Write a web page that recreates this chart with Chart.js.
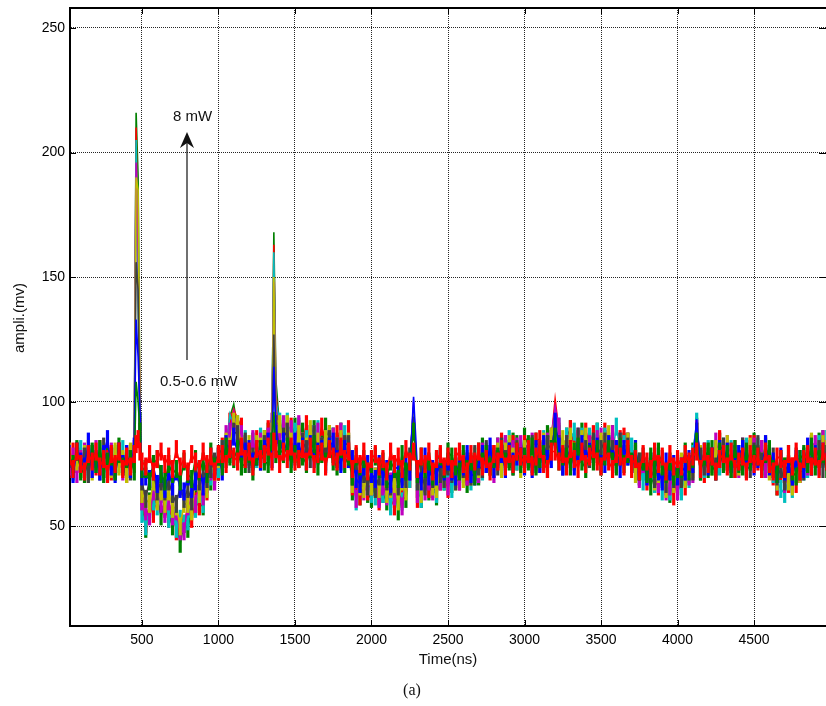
<!DOCTYPE html>
<html>
<head>
<meta charset="utf-8">
<script src="https://cdn.jsdelivr.net/npm/chart.js@4.4.0/dist/chart.umd.min.js"></script>
<style>
  html, body { margin: 0; padding: 0; background: #fff; }
</style>
</head>
<body>
<canvas id="myChart" width="826" height="706"></canvas>
<script>
// time axis (ns), extra samples around the narrow peaks
const timeNs = [
  25, 50, 75, 100, 125, 150, 175, 200, 225, 250, 275, 300, 325, 350, 375, 400, 425, 450, 462, 475, 487, 500,
  525, 550, 575, 600, 625, 650, 675, 700, 725, 750, 775, 800, 825, 850, 875, 900, 925, 950, 975, 1000,
  1025, 1050, 1075, 1100, 1125, 1150, 1175, 1200, 1225, 1250, 1275, 1300, 1325, 1350, 1362, 1375, 1400, 1425, 1450, 1475, 1500,
  1525, 1550, 1575, 1600, 1625, 1650, 1675, 1700, 1725, 1750, 1775, 1800, 1825, 1850, 1875, 1900, 1925, 1950, 1975, 2000,
  2025, 2050, 2075, 2100, 2125, 2150, 2175, 2200, 2225, 2250, 2275, 2300, 2325, 2350, 2375, 2400, 2425, 2450, 2475, 2500,
  2525, 2550, 2575, 2600, 2625, 2650, 2675, 2700, 2725, 2750, 2775, 2800, 2825, 2850, 2875, 2900, 2925, 2950, 2975, 3000,
  3025, 3050, 3075, 3100, 3125, 3150, 3175, 3200, 3225, 3250, 3275, 3300, 3325, 3350, 3375, 3400, 3425, 3450, 3475, 3500,
  3525, 3550, 3575, 3600, 3625, 3650, 3675, 3700, 3725, 3750, 3775, 3800, 3825, 3850, 3875, 3900, 3925, 3950, 3975, 4000,
  4025, 4050, 4075, 4100, 4125, 4150, 4175, 4200, 4225, 4250, 4275, 4300, 4325, 4350, 4375, 4400, 4425, 4450, 4475, 4500,
  4525, 4550, 4575, 4600, 4625, 4650, 4675, 4700, 4725, 4750, 4775, 4800, 4825, 4850, 4875, 4900, 4925, 4950, 4975
];

// traces, strongest first (drawn first, lowest layer)
const greenHigh = [
  79, 74, 81, 72, 77, 73, 80, 75, 78, 71, 79, 76, 72, 82, 74, 77, 73, 80, 216, 190, 95, 60,
  49, 60, 58, 62, 54, 60, 55, 50, 54, 43, 51, 49, 57, 62, 59, 58, 69, 68, 74, 72,
  79, 80, 94, 99, 89, 81, 83, 78, 84, 79, 79, 85, 88, 89, 168, 109, 89, 90, 91, 84, 90,
  85, 88, 81, 87, 89, 84, 83, 90, 83, 86, 84, 88, 81, 84, 64, 67, 62, 70, 63, 61,
  68, 62, 63, 60, 65, 66, 56, 62, 61, 75, 98, 65, 61, 69, 64, 67, 62, 72, 68, 72,
  67, 74, 70, 74, 67, 74, 72, 70, 82, 75, 79, 73, 82, 78, 82, 76, 84, 83, 77, 86,
  83, 75, 84, 80, 79, 87, 85, 95, 87, 78, 86, 89, 82, 79, 88, 83, 85, 81, 88, 81,
  85, 83, 87, 81, 78, 84, 84, 77, 81, 70, 72, 73, 66, 72, 67, 69, 68, 63, 70, 73,
  66, 71, 71, 80, 90, 72, 77, 73, 81, 77, 84, 77, 76, 80, 73, 76, 81, 73, 81, 84,
  79, 76, 82, 73, 74, 66, 73, 68, 71, 67, 71, 73, 78, 77, 80, 78, 84, 85, 76
];
const redHigh = [
  73, 80, 75, 78, 71, 79, 76, 74, 81, 73, 77, 72, 78, 80, 74, 71, 79, 75, 210, 150, 90, 62,
  51, 59, 55, 62, 64, 57, 53, 58, 48, 51, 51, 58, 53, 60, 58, 67, 64, 74, 71, 72,
  82, 83, 92, 97, 93, 90, 77, 80, 78, 85, 83, 80, 89, 87, 163, 104, 86, 93, 88, 90, 84,
  89, 84, 91, 82, 86, 82, 90, 84, 87, 79, 87, 84, 80, 89, 66, 66, 62, 70, 64, 67,
  66, 60, 67, 69, 61, 58, 63, 61, 68, 69, 96, 61, 67, 69, 65, 71, 64, 68, 70, 65,
  74, 69, 68, 77, 70, 73, 72, 78, 73, 78, 74, 79, 76, 84, 79, 77, 83, 76, 77, 83,
  81, 77, 84, 85, 77, 83, 85, 101, 88, 81, 81, 89, 82, 85, 80, 88, 83, 87, 81, 83,
  88, 81, 84, 80, 85, 86, 79, 73, 79, 72, 74, 68, 75, 68, 66, 72, 66, 69, 62, 71,
  69, 66, 75, 75, 88, 77, 71, 80, 78, 75, 85, 76, 80, 75, 81, 77, 81, 74, 83, 83,
  76, 81, 77, 79, 70, 66, 71, 71, 67, 74, 67, 71, 76, 74, 83, 79, 82, 81, 76
];
const cyanTrace = [
  77, 72, 79, 81, 74, 72, 78, 75, 80, 73, 71, 78, 79, 75, 81, 73, 76, 78, 205, 140, 92, 55,
  50, 57, 60, 58, 63, 64, 53, 55, 49, 53, 51, 52, 61, 57, 63, 59, 71, 70, 75, 73,
  81, 81, 95, 90, 91, 81, 85, 78, 82, 77, 86, 82, 80, 95, 160, 100, 92, 86, 92, 86, 88,
  90, 84, 85, 82, 87, 89, 81, 85, 82, 86, 82, 80, 87, 80, 70, 60, 69, 66, 68, 63,
  62, 68, 63, 66, 58, 65, 61, 60, 69, 69, 97, 68, 61, 68, 71, 65, 63, 72, 68, 72,
  65, 72, 74, 71, 77, 68, 72, 76, 72, 80, 76, 77, 79, 75, 83, 85, 79, 76, 81, 80,
  79, 82, 76, 81, 85, 81, 84, 96, 90, 80, 86, 85, 88, 81, 86, 80, 86, 82, 88, 81,
  86, 84, 79, 90, 81, 83, 78, 82, 75, 75, 68, 74, 73, 67, 74, 64, 68, 64, 71, 67,
  64, 70, 69, 79, 92, 74, 73, 81, 76, 80, 74, 82, 79, 81, 75, 79, 81, 82, 79, 80,
  82, 74, 81, 75, 71, 68, 65, 63, 69, 65, 72, 75, 72, 73, 83, 80, 83, 77, 85
];
const magentaTrace = [
  74, 78, 71, 77, 80, 75, 73, 81, 74, 78, 76, 80, 73, 77, 72, 79, 74, 81, 196, 160, 100, 60,
  56, 54, 64, 67, 59, 55, 60, 54, 56, 48, 48, 58, 61, 59, 68, 62, 67, 72, 68, 78,
  75, 87, 88, 96, 84, 87, 80, 77, 85, 78, 84, 78, 86, 92, 148, 99, 85, 91, 86, 89, 83,
  91, 83, 81, 87, 83, 88, 82, 79, 86, 86, 82, 88, 80, 82, 71, 61, 68, 64, 66, 66,
  70, 61, 66, 62, 68, 62, 64, 58, 68, 72, 100, 63, 71, 64, 68, 64, 72, 68, 71, 66,
  74, 76, 68, 73, 70, 75, 71, 71, 80, 75, 79, 71, 82, 79, 83, 78, 81, 82, 83, 79,
  79, 84, 77, 75, 82, 84, 86, 98, 90, 78, 83, 86, 79, 86, 82, 84, 83, 79, 85, 86,
  81, 80, 87, 81, 84, 81, 84, 75, 77, 69, 75, 70, 76, 69, 67, 71, 64, 66, 70, 64,
  71, 74, 70, 71, 89, 78, 75, 79, 75, 84, 78, 75, 83, 77, 79, 73, 82, 79, 76, 82,
  79, 81, 73, 78, 73, 68, 76, 67, 70, 67, 75, 71, 76, 74, 83, 83, 78, 85, 77
];
const yellowTrace = [
  80, 75, 76, 73, 79, 81, 72, 77, 74, 79, 75, 73, 80, 74, 77, 71, 80, 76, 190, 185, 96, 63,
  61, 59, 68, 60, 64, 59, 64, 57, 58, 50, 59, 59, 56, 68, 63, 67, 65, 75, 72, 77,
  76, 84, 82, 92, 91, 82, 77, 83, 77, 83, 82, 85, 80, 88, 150, 93, 91, 85, 91, 84, 81,
  87, 84, 82, 89, 80, 84, 80, 85, 87, 80, 77, 85, 81, 84, 67, 72, 66, 65, 71, 66,
  70, 65, 71, 63, 65, 67, 60, 68, 64, 74, 96, 69, 63, 71, 73, 66, 65, 72, 69, 75,
  75, 68, 73, 69, 76, 70, 78, 73, 73, 79, 74, 74, 80, 73, 80, 83, 78, 81, 73, 81,
  78, 82, 79, 76, 84, 79, 86, 94, 79, 85, 82, 86, 80, 83, 85, 86, 80, 82, 78, 84,
  84, 87, 79, 78, 83, 80, 84, 75, 71, 76, 76, 71, 76, 68, 71, 72, 65, 72, 67, 71,
  76, 69, 73, 73, 86, 79, 75, 79, 74, 81, 81, 76, 83, 75, 78, 74, 80, 77, 82, 77,
  79, 76, 83, 72, 75, 68, 73, 74, 68, 66, 74, 71, 76, 75, 84, 79, 77, 83, 81
];
const grayTrace = [
  77, 73, 80, 75, 78, 71, 79, 76, 72, 82, 74, 77, 73, 80, 75, 78, 72, 79, 156, 145, 92, 68,
  61, 69, 72, 64, 68, 64, 68, 63, 59, 66, 61, 65, 60, 71, 68, 72, 69, 73, 76, 79,
  81, 77, 79, 88, 87, 80, 84, 75, 78, 81, 76, 83, 78, 84, 127, 91, 80, 86, 88, 80, 78,
  77, 84, 81, 77, 87, 79, 82, 78, 85, 79, 82, 76, 83, 83, 70, 75, 67, 71, 66, 72,
  65, 70, 73, 68, 66, 73, 66, 70, 69, 78, 94, 68, 71, 66, 74, 69, 76, 71, 69, 74,
  71, 68, 76, 73, 76, 70, 79, 74, 73, 81, 76, 78, 74, 82, 77, 80, 74, 81, 78, 77,
  77, 83, 75, 79, 76, 83, 81, 90, 83, 74, 83, 81, 76, 86, 79, 81, 77, 84, 79, 81,
  84, 78, 81, 75, 84, 79, 82, 75, 77, 76, 78, 72, 73, 69, 75, 77, 67, 72, 69, 75,
  69, 72, 75, 72, 88, 78, 74, 78, 78, 74, 81, 82, 76, 73, 79, 76, 82, 74, 73, 80,
  83, 76, 79, 75, 78, 70, 73, 68, 75, 70, 78, 72, 72, 79, 74, 77, 81, 73, 79
];
const blueTrace = [
  79, 71, 80, 76, 74, 84, 73, 77, 72, 79, 85, 74, 71, 80, 75, 79, 73, 82, 133, 118, 96, 70,
  70, 69, 74, 67, 71, 65, 72, 66, 72, 65, 64, 70, 65, 68, 73, 66, 73, 78, 73, 78,
  72, 83, 81, 86, 79, 80, 80, 81, 76, 78, 76, 81, 84, 77, 114, 87, 80, 84, 80, 77, 84,
  80, 82, 76, 83, 77, 80, 81, 75, 82, 84, 77, 75, 81, 77, 77, 69, 67, 74, 75, 71,
  69, 75, 70, 73, 67, 74, 73, 69, 76, 72, 102, 73, 68, 78, 70, 73, 70, 77, 72, 76,
  72, 70, 76, 74, 79, 71, 70, 77, 79, 75, 82, 73, 77, 79, 73, 80, 76, 78, 78, 74,
  79, 73, 81, 75, 83, 77, 77, 92, 82, 74, 77, 81, 74, 80, 83, 77, 80, 79, 82, 75,
  75, 83, 77, 81, 73, 81, 78, 75, 81, 72, 76, 70, 76, 78, 72, 68, 76, 72, 75, 70,
  74, 72, 77, 75, 93, 73, 80, 74, 78, 72, 81, 77, 80, 75, 77, 79, 81, 76, 77, 74,
  77, 73, 83, 74, 76, 71, 78, 72, 75, 70, 77, 77, 73, 82, 74, 79, 74, 80, 76
];
const greenLow = [
  78, 75, 80, 73, 71, 78, 79, 75, 81, 73, 76, 78, 72, 79, 74, 77, 77, 72, 108, 100, 88, 73,
  73, 68, 75, 77, 71, 68, 75, 71, 73, 68, 76, 71, 69, 77, 72, 76, 71, 80, 74, 78,
  74, 82, 78, 77, 81, 74, 75, 79, 72, 78, 81, 76, 75, 84, 96, 79, 81, 79, 82, 75, 79,
  77, 78, 75, 81, 83, 74, 79, 76, 81, 76, 74, 81, 75, 78, 70, 78, 74, 77, 72, 75,
  78, 73, 76, 69, 76, 73, 69, 79, 72, 76, 88, 71, 78, 73, 76, 70, 77, 78, 73, 80,
  78, 74, 72, 79, 73, 76, 70, 80, 76, 79, 74, 77, 78, 81, 76, 77, 74, 80, 75, 78,
  76, 82, 74, 77, 79, 73, 81, 86, 76, 78, 78, 74, 80, 82, 76, 73, 79, 76, 81, 74,
  78, 81, 76, 74, 82, 75, 79, 76, 80, 72, 76, 71, 78, 73, 80, 74, 71, 76, 70, 73,
  73, 80, 72, 77, 84, 72, 78, 80, 74, 72, 80, 75, 79, 73, 81, 75, 74, 80, 76, 79,
  78, 73, 79, 81, 73, 71, 77, 74, 79, 72, 70, 77, 79, 75, 82, 74, 77, 79, 73
];
// 0.5-0.6 mW, drawn last
const redLow = [
  78, 73, 80, 75, 72, 79, 76, 80, 74, 77, 71, 79, 75, 80, 73, 78, 74, 79, 83, 85, 80, 76,
  74, 79, 72, 77, 80, 75, 78, 73, 81, 74, 77, 72, 79, 76, 73, 80, 75, 78, 72, 79,
  79, 75, 81, 78, 76, 82, 77, 80, 74, 81, 77, 79, 82, 76, 84, 81, 75, 80, 77, 82, 76,
  77, 81, 76, 82, 75, 79, 80, 74, 81, 78, 76, 82, 77, 80, 73, 79, 75, 80, 72, 77,
  79, 74, 77, 72, 80, 75, 78, 73, 81, 76, 80, 73, 78, 75, 80, 72, 77, 79, 74, 78,
  73, 78, 80, 75, 72, 79, 76, 80, 74, 77, 72, 79, 76, 81, 74, 79, 75, 80, 78, 75,
  79, 74, 78, 81, 75, 73, 80, 80, 76, 79, 74, 81, 77, 73, 80, 75, 78, 81, 76, 74,
  80, 76, 73, 79, 78, 74, 81, 75, 77, 72, 79, 76, 73, 80, 75, 78, 72, 79, 74, 77,
  74, 79, 76, 78, 80, 73, 80, 75, 78, 72, 77, 79, 74, 80, 73, 76, 78, 72, 79, 75,
  78, 73, 80, 75, 72, 78, 77, 73, 79, 74, 80, 72, 77, 79, 74, 78, 73, 80, 76
];

const xTicks = [500, 1000, 1500, 2000, 2500, 3000, 3500, 4000, 4500];
const yTicks = [50, 100, 150, 200, 250];

const traces = [
  { data: greenHigh, color: "#008000" },
  { data: redHigh, color: "#ff0000" },
  { data: cyanTrace, color: "#00bfbf" },
  { data: magentaTrace, color: "#bf00bf" },
  { data: yellowTrace, color: "#bfbf00" },
  { data: grayTrace, color: "#404040" },
  { data: blueTrace, color: "#0000ff" },
  { data: greenLow, color: "#008000" },
  { data: redLow, color: "#ff0000" },
];

// every sample also gets a short vertical stroke so the noisy band looks filled
// like a scope trace; no stroke on the tall peaks
const strokeLen = (c) => (c.raw && c.raw.y > 92 ? 0 : 9);

const datasets = traces.map((tr, i) => ({
  label: "trace " + (i + 1),
  data: timeNs.map((t, j) => ({ x: t, y: tr.data[j] })),
  borderColor: tr.color,
  backgroundColor: tr.color,
  borderWidth: 1.6,
  pointStyle: "line",
  rotation: 90,
  pointRadius: strokeLen,
  pointBorderWidth: 3.2,
  pointBorderColor: tr.color,
  tension: 0,
  order: traces.length - i, // later traces on top
}));

// frame on top, inward ticks, annotation and titles
const extras = {
  id: "extras",
  afterDraw(chart) {
    const { ctx, chartArea: a, scales } = chart;
    ctx.save();
    ctx.strokeStyle = "#000";
    ctx.lineWidth = 2;
    ctx.beginPath();
    ctx.moveTo(a.left - 1, a.top);
    ctx.lineTo(a.right, a.top);
    ctx.stroke();

    ctx.lineWidth = 1;
    ctx.beginPath();
    xTicks.forEach((v) => {
      const px = Math.round(scales.x.getPixelForValue(v)) + 0.5;
      ctx.moveTo(px, a.bottom);
      ctx.lineTo(px, a.bottom - 6);
      ctx.moveTo(px, a.top);
      ctx.lineTo(px, a.top + 6);
    });
    yTicks.forEach((v) => {
      const py = Math.round(scales.y.getPixelForValue(v)) + 0.5;
      ctx.moveTo(a.left, py);
      ctx.lineTo(a.left + 6, py);
      ctx.moveTo(a.right, py);
      ctx.lineTo(a.right - 7, py);
    });
    ctx.stroke();

    // arrow 0.5-0.6 mW -> 8 mW
    ctx.strokeStyle = "#111";
    ctx.fillStyle = "#111";
    ctx.lineWidth = 1.2;
    ctx.beginPath();
    ctx.moveTo(187, 360);
    ctx.lineTo(187, 140);
    ctx.stroke();
    ctx.beginPath();
    ctx.moveTo(187, 132);
    ctx.lineTo(180, 148);
    ctx.lineTo(187, 143);
    ctx.lineTo(194, 148);
    ctx.closePath();
    ctx.fill();

    ctx.font = "15px 'Liberation Sans', Arial, sans-serif";
    ctx.textBaseline = "middle";
    ctx.textAlign = "left";
    ctx.fillText("8 mW", 173, 117);
    ctx.fillText("0.5-0.6 mW", 160, 382);

    ctx.textAlign = "center";
    ctx.fillText("Time(ns)", 448, 660);
    ctx.save();
    ctx.translate(20, 318);
    ctx.rotate(-Math.PI / 2);
    ctx.fillText("ampli.(mv)", 0, 0);
    ctx.restore();

    ctx.font = "16px 'Liberation Serif', 'Times New Roman', serif";
    ctx.fillText("(a)", 412, 691);
    ctx.restore();
  },
};

Chart.defaults.font.family = "'Liberation Sans', Arial, sans-serif";
Chart.defaults.color = "#000";

const ctx = document.getElementById("myChart").getContext("2d");
const waveChart = new Chart(ctx, {
  type: "line",
  data: { datasets: datasets },
  options: {
    responsive: false,
    animation: false,
    events: [],
    layout: { autoPadding: false, padding: { top: 8, right: 0, bottom: 0, left: 0 } },
    plugins: {
      legend: { display: false },
      tooltip: { enabled: false },
    },
    scales: {
      x: {
        type: "linear",
        min: 30,
        max: 4970,
        afterBuildTicks: (axis) => {
          axis.ticks = xTicks.map((v) => ({ value: v }));
        },
        afterFit: (axis) => {
          axis.height = 80;
          axis.paddingLeft = 0;
          axis.paddingRight = 0;
        },
        ticks: { font: { size: 14 }, padding: 6, maxRotation: 0, autoSkip: false, callback: (v) => String(v) },
        grid: { color: "rgba(0,0,0,0.85)", lineWidth: 1, drawTicks: false },
        border: { color: "#000", width: 2, dash: [1, 1] },
      },
      y: {
        min: 10,
        max: 258,
        afterBuildTicks: (axis) => {
          axis.ticks = yTicks.map((v) => ({ value: v }));
        },
        afterFit: (axis) => {
          axis.width = 70;
          axis.paddingTop = 0;
          axis.paddingBottom = 0;
        },
        ticks: { font: { size: 14 }, padding: 5, callback: (v) => String(v) },
        grid: { color: "rgba(0,0,0,0.85)", lineWidth: 1, drawTicks: false },
        border: { color: "#000", width: 2, dash: [1, 1] },
      },
    },
  },
  plugins: [extras],
});
</script>
</body>
</html>
